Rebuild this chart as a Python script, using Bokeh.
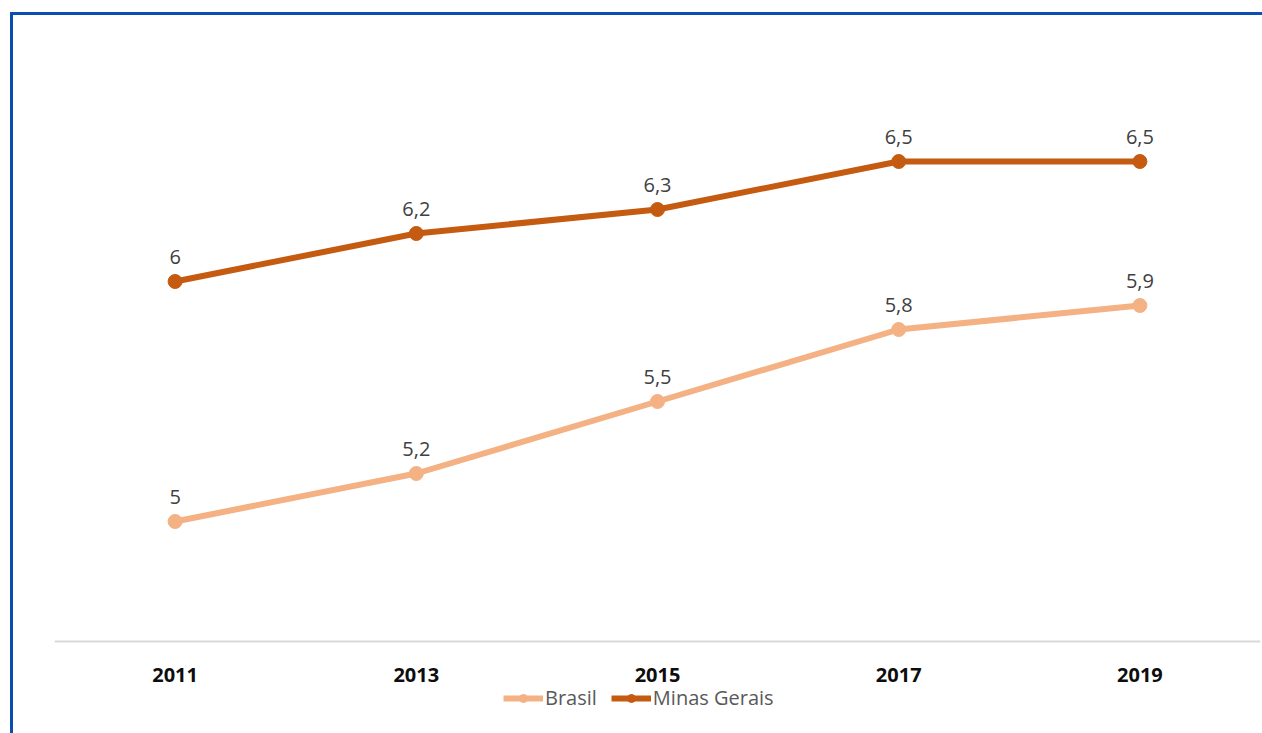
from bokeh.plotting import figure
from bokeh.models import ColumnDataSource, Range1d, FixedTicker, Legend, LegendItem
from bokeh.core.properties import value
from bokeh.embed import file_html
from bokeh.resources import INLINE

years = ["2011", "2013", "2015", "2017", "2019"]
brasil = [5.0, 5.2, 5.5, 5.8, 5.9]
minas = [6.0, 6.2, 6.3, 6.5, 6.5]

brasil_labels = ["5", "5,2", "5,5", "5,8", "5,9"]
minas_labels = ["6", "6,2", "6,3", "6,5", "6,5"]

xs = list(range(len(years)))

Y_BASE = 4.5
Y_TOP = 7.0
FRAME_H = 692
y_start = Y_TOP - FRAME_H * (Y_TOP - Y_BASE) / 600.0

p = figure(frame_width=1206, frame_height=FRAME_H, output_backend="svg", toolbar_location=None,
           x_range=Range1d(-0.5, 4.5), y_range=Range1d(y_start, Y_TOP),
           min_border_left=41, min_border_right=2, min_border_top=26, min_border_bottom=0)
p.styles = {"border-top": "3px solid #0B4DB0", "border-left": "3px solid #0B4DB0",
            "margin-top": "12px", "margin-left": "10px"}
p.outline_line_color = None
p.grid.visible = False
p.yaxis.visible = False
p.background_fill_color = "white"
p.border_fill_color = "white"

p.xaxis.fixed_location = Y_BASE
p.xaxis.ticker = FixedTicker(ticks=xs)
p.xaxis.major_label_overrides = {i: y for i, y in enumerate(years)}
p.xaxis.major_tick_line_color = None
p.xaxis.minor_tick_line_color = None
p.xaxis.axis_line_color = "#D9D9D9"
p.xaxis.axis_line_width = 2
p.xaxis.major_label_text_font = "Open Sans"
p.xaxis.major_label_text_font_style = "bold"
p.xaxis.major_label_text_font_size = "20px"
p.xaxis.major_label_text_color = "#0D0D0D"
p.xaxis.major_label_standoff = 20

c_br = "#F4B183"
c_mg = "#C55A11"

src_b = ColumnDataSource(dict(x=xs, y=brasil, lab=brasil_labels))
src_m = ColumnDataSource(dict(x=xs, y=minas, lab=minas_labels))

lb = p.line("x", "y", source=src_b, line_color=c_br, line_width=6)
sb = p.scatter("x", "y", source=src_b, size=14, fill_color=c_br, line_color=c_br)
lm = p.line("x", "y", source=src_m, line_color=c_mg, line_width=6)
sm = p.scatter("x", "y", source=src_m, size=14, fill_color=c_mg, line_color=c_mg)

for src in (src_b, src_m):
    p.text("x", "y", text="lab", source=src, y_offset=-25, text_align="center",
           text_baseline="middle", text_font=value("Open Sans"), text_font_size="20px",
           text_color="#404040")

legend = Legend(items=[LegendItem(label="Brasil", renderers=[lb, sb]),
                       LegendItem(label="Minas Gerais", renderers=[lm, sm])],
                orientation="horizontal", location=(449, 22),
                label_text_font="Open Sans", label_text_font_size="20px",
                label_text_color="#595959", glyph_width=40, glyph_height=20,
                label_standoff=2, spacing=14, padding=0, margin=0,
                border_line_color=None, background_fill_alpha=0)
p.add_layout(legend, "center")

open("out.html", "w").write(file_html(p, INLINE))
